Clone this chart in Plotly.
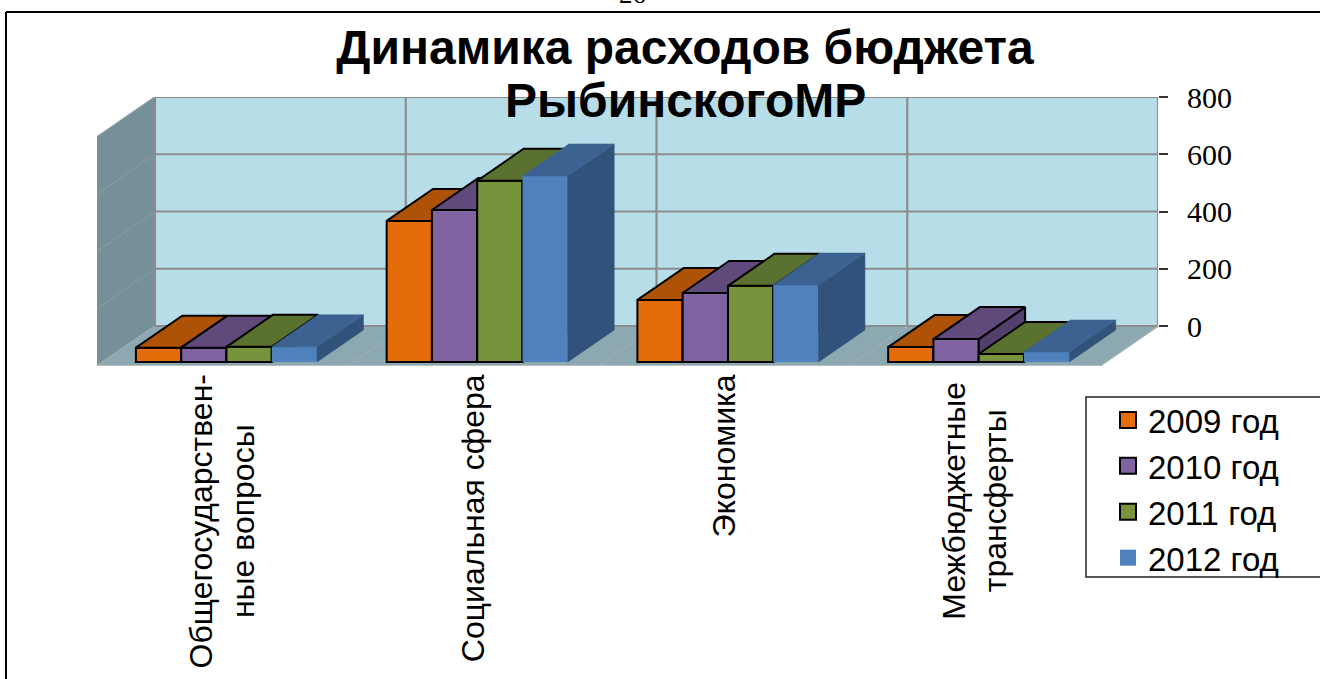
import plotly.graph_objects as go

# ---- data ----
title_lines = ["Динамика расходов бюджета", "РыбинскогоМР"]
categories = ["Общегосударствен-<br>ные вопросы", "Социальная сфера", "Экономика", "Межбюджетные<br>трансферты"]
series_names = ["2009 год", "2010 год", "2011 год", "2012 год"]
v2009 = [50, 493, 217, 52]
v2010 = [50, 531, 241, 80]
v2011 = [53, 633, 266, 28]
v2012 = [53, 650, 269, 35]
value_ticks = [0, 200, 400, 600, 800]
page_number = "26"

series_values = [v2009, v2010, v2011, v2012]
front_colors = ["#e46c0a", "#8064a2", "#77933c", "#4f81bd"]
top_colors = ["#ae5207", "#604a7b", "#5a7130", "#3b6290"]
side_colors = ["#a04a06", "#533f6c", "#4f6329", "#31527b"]
outline = ["#000000", "#000000", "#000000", None]
label_tops = [372, 372, 372, 380]

# ---- pseudo-3D geometry (pixel layout of the plot area) ----
PX_L, PX_R, PX_T, PX_B = 97, 1158, 97, 366
CAT_PX = 250.75
DX = 58 / CAT_PX                 # depth shift in category units
DY = 40 * 800 / 229              # depth shift in value units
Y_MAX = 800
X_MAX = 4 + DX
START, BAR_W = 0.132, 0.1806
D0, D1 = 0.1, 0.9


def P(x, v, d):
    """Project category position x, value v, depth d (0 front, 1 back)."""
    return x + d * DX, v - (1 - d) * DY


def paper_x(px):
    return (px - PX_L) / (PX_R - PX_L)


def paper_y(py):
    return (PX_B - py) / (PX_B - PX_T)


def poly(points, fill, line=None, lw=2, z=0):
    xs = [p[0] for p in points] + [points[0][0]]
    ys = [p[1] for p in points] + [points[0][1]]
    return go.Scatter(x=xs, y=ys, mode="lines", fill="toself", fillcolor=fill,
                      line=dict(color=line or fill, width=lw if line else 0.5),
                      showlegend=False, hoverinfo="skip", zorder=z, cliponaxis=False)


def seg(points, color, lw=2, z=-5):
    return go.Scatter(x=[p[0] for p in points], y=[p[1] for p in points], mode="lines",
                      line=dict(color=color, width=lw), showlegend=False,
                      hoverinfo="skip", zorder=z, cliponaxis=False)


fig = go.Figure()

# walls and floor
fig.add_trace(poly([P(0, 0, 1), P(4, 0, 1), P(4, Y_MAX, 1), P(0, Y_MAX, 1)], "#b7dee8", z=-10))
fig.add_trace(poly([P(0, 0, 0), P(0, 0, 1), P(0, Y_MAX, 1), P(0, Y_MAX, 0)], "#76909a", z=-10))
fig.add_trace(poly([P(0, 0, 0), P(4, 0, 0), P(4, 0, 1), P(0, 0, 1)], "#8ca9b2", z=-10))

# gridlines
for t in value_ticks:
    fig.add_trace(seg([P(0, t, 0), P(0, t, 1)], "#84989f", 1.5))
    fig.add_trace(seg([P(0, t, 1), P(4, t, 1)], "#8c8c8c", 2.2))
for i in range(5):
    fig.add_trace(seg([P(i, 0, 0), P(i, 0, 1)], "#9fadb2", 1.5))
    fig.add_trace(seg([P(i, 0, 1), P(i, Y_MAX, 1)], "#8c8c8c", 2.2))
fig.add_trace(seg([P(0, 0, 0), P(4, 0, 0)], "#b8bfc2", 2))

# bars
for s, values in enumerate(series_values):
    z = s + 1
    xs_center = []
    for c, v in enumerate(values):
        x0 = c + START + s * BAR_W
        x1 = x0 + BAR_W
        xs_center.append(P((x0 + x1) / 2, 0, D0)[0])
        fig.add_trace(poly([P(x1, 0, D0), P(x1, 0, D1), P(x1, v, D1), P(x1, v, D0)],
                           side_colors[s], outline[s], z=z))
        fig.add_trace(poly([P(x0, v, D0), P(x1, v, D0), P(x1, v, D1), P(x0, v, D1)],
                           top_colors[s], outline[s], z=z))
    base = P(0, 0, D0)[1]
    fig.add_trace(go.Bar(
        x=xs_center, y=values, base=base, width=BAR_W, name=series_names[s],
        marker=dict(color=front_colors[s],
                    line=dict(color=outline[s] or front_colors[s], width=2 if outline[s] else 0)),
        showlegend=False, zorder=z, cliponaxis=False))
    # legend key
    fig.add_trace(go.Scatter(
        x=[None], y=[None], mode="markers", name=series_names[s],
        marker=dict(symbol="square", size=16, color=front_colors[s],
                    line=dict(color=outline[s] or front_colors[s], width=2 if outline[s] else 0))))

annotations = [
    dict(text=title_lines[1], xref="paper", yref="paper", x=paper_x(685), y=paper_y(100),
         xanchor="center", yanchor="middle", showarrow=False,
         font=dict(family="Liberation Sans", size=48, color="#000000", weight=700)),
    dict(text=page_number, xref="paper", yref="paper", x=paper_x(632), y=paper_y(11),
         xanchor="center", yanchor="bottom", showarrow=False,
         font=dict(family="Liberation Serif", size=27, color="#000000")),
]
for i, c in enumerate(categories):
    annotations.append(dict(text=c, xref="x", yref="paper", x=i + 0.5, y=paper_y(label_tops[i]),
                            xanchor="center", yanchor="top", textangle=-90, showarrow=False,
                            align="center",
                            font=dict(family="Liberation Sans", size=32, color="#000000")))

shapes = [
    dict(type="line", xref="paper", yref="paper", x0=paper_x(6), y0=paper_y(12), x1=paper_x(1321), y1=paper_y(12),
         line=dict(color="#000000", width=2)),
    dict(type="line", xref="paper", yref="paper", x0=paper_x(6), y0=paper_y(12), x1=paper_x(6), y1=paper_y(680),
         line=dict(color="#000000", width=2)),
    dict(type="rect", xref="paper", yref="paper", x0=paper_x(1086), y0=paper_y(397), x1=paper_x(1325), y1=paper_y(577),
         line=dict(color="#222222", width=1.5)),
]

fig.update_layout(
    width=1320, height=679,
    margin=dict(l=PX_L, r=1320 - PX_R, t=PX_T, b=679 - PX_B, autoexpand=False),
    paper_bgcolor="#ffffff", plot_bgcolor="rgba(0,0,0,0)",
    barmode="overlay",
    title=dict(text=title_lines[0], x=685 / 1320, xanchor="center", y=1 - 47 / 679, yanchor="middle",
               xref="container", yref="container",
               font=dict(family="Liberation Sans", size=48, color="#000000", weight=700)),
    xaxis=dict(range=[0, X_MAX], showgrid=False, zeroline=False, showticklabels=False, ticks="", showline=False),
    yaxis=dict(range=[-DY, Y_MAX], side="right", tickmode="array", tickvals=value_ticks,
               ticks="outside", ticklen=9, tickwidth=2, tickcolor="#333333", showgrid=False, zeroline=False,
               showline=False, ticklabelstandoff=13,
               tickfont=dict(family="Liberation Serif", size=30, color="#000000")),
    legend=dict(x=paper_x(1108), y=paper_y(392), xanchor="left", yanchor="top",
                bgcolor="rgba(0,0,0,0)", borderwidth=0, itemclick=False, itemdoubleclick=False,
                font=dict(family="Liberation Sans", size=33, color="#000000")),
    annotations=annotations,
    shapes=shapes,
)

fig.write_html("out.html", config={"displayModeBar": False},
               post_script="document.body.style.margin='0';document.body.style.overflow='hidden';")
